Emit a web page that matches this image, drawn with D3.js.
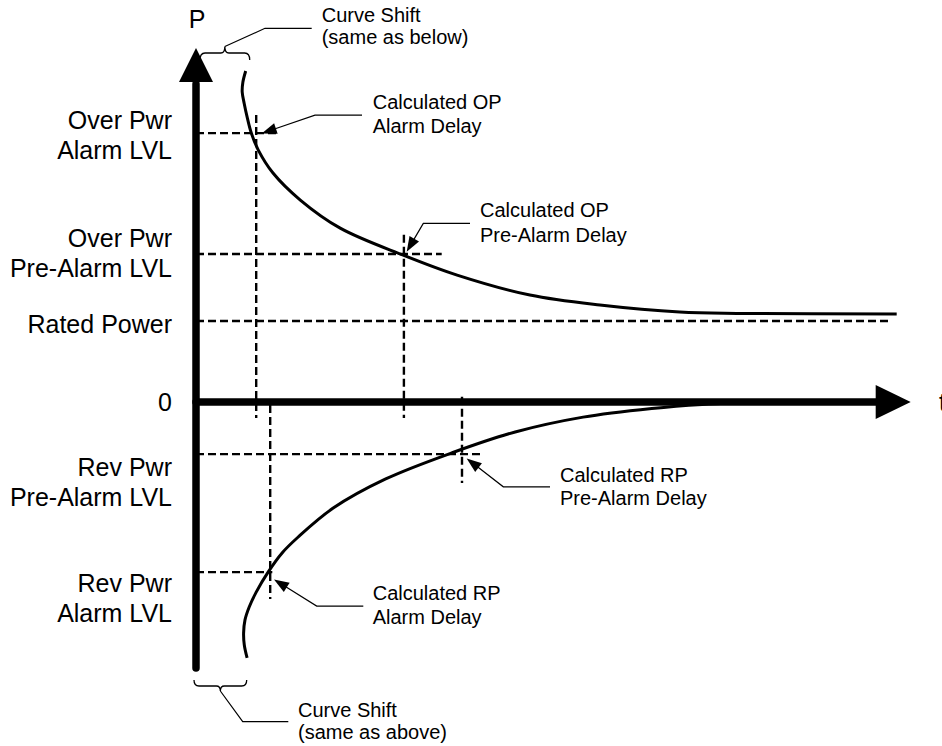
<!DOCTYPE html>
<html><head><meta charset="utf-8">
<script src="https://cdn.jsdelivr.net/npm/d3@7"></script>
<style>
body{margin:0;background:#fff}
svg{display:block;background:#fff}
text{font-family:"Liberation Sans",Arial,Helvetica,sans-serif;fill:#000}
</style>
</head><body>
<svg id="chart" width="942" height="746"></svg>
<script>
// ---------------- data ----------------
const levelLabels = [["Over Pwr","Alarm LVL"],["Over Pwr","Pre-Alarm LVL"],["Rated Power"],["0"],["Rev Pwr","Pre-Alarm LVL"],["Rev Pwr","Alarm LVL"]];
const levelValues = [99.6, 54.8, 30.0, 0, -19.3, -63.0];
const levelGuideEnd = [11.7, 35.1, 99.4, null, 40.6, 10.9];

const overCurveT = [7.1, 6.7, 6.6, 6.9, 7.3, 7.9, 8.9, 11.0, 14.9, 20.6, 29.6, 37.3, 47.7, 57.7, 69.1, 77.7, 100.1];
const overCurveP = [122.6, 118.5, 114.8, 110.4, 105.6, 99.6, 93.3, 84.8, 74.8, 64.4, 54.4, 47.0, 39.6, 35.9, 33.3, 32.8, 32.6];
const revCurveT = [7.3, 6.9, 6.8, 7.0, 7.6, 8.6, 10.3, 12.3, 14.6, 19.6, 27.1, 36.7, 45.6, 55.3, 65.1, 72.3, 77.0];
const revCurveP = [-94.8, -90.0, -85.6, -80.7, -75.9, -70.4, -63.0, -55.9, -50.0, -39.3, -28.5, -18.7, -11.1, -5.6, -2.4, -0.9, -0.4];

const delayNames = [["Calculated OP","Alarm Delay"],["Calculated OP","Pre-Alarm Delay"],["Calculated RP","Pre-Alarm Delay"],["Calculated RP","Alarm Delay"]];
const delayT = [8.6, 29.7, 38.0, 10.6];
const delayLevel = [99.6, 54.8, -19.3, -63.0];
const delayGuideTop = [106.3, 61.9, 1.9, -1.1];
const delayGuideBottom = [-5.9, -5.9, -30.0, -73.0];

const curveShift = 7.1;
const shiftNotes = [["Curve Shift","(same as below)"],["Curve Shift","(same as above)"]];
const axisNames = ["P", "t"];
const axisTMax = 102.1, axisTArrowBase = 97.1;
const axisPMax = 131.1, axisPArrowBase = 118.5, axisPMin = -98.5;

// ---------------- layout ----------------
const svg = d3.select("#chart");
svg.append("rect").attr("width",942).attr("height",746).attr("fill","#fff");
const x = d3.scaleLinear().domain([0,100]).range([196,896]);
const y = d3.scaleLinear().domain([0,100]).range([402,132]);

const labelFont = 25, noteFont = 20;
const dash = "8,4";

// level guides (dashed)
levelValues.forEach((v,i)=>{
  if(levelGuideEnd[i]==null) return;
  svg.append("line").attr("x1",x(0)).attr("x2",x(levelGuideEnd[i]))
    .attr("y1",y(v)).attr("y2",y(v))
    .attr("stroke","#000").attr("stroke-width",2.4).attr("stroke-dasharray",dash);
});
// delay guides (dashed verticals)
delayT.forEach((t,i)=>{
  svg.append("line").attr("x1",x(t)).attr("x2",x(t))
    .attr("y1",y(delayGuideTop[i])).attr("y2",y(delayGuideBottom[i]))
    .attr("stroke","#000").attr("stroke-width",2.4).attr("stroke-dasharray",dash);
});

// curves
const line = d3.line().x(d=>x(d[0])).y(d=>y(d[1])).curve(d3.curveCatmullRom.alpha(0.5));
svg.append("path").attr("d", line(overCurveT.map((t,i)=>[t,overCurveP[i]])))
  .attr("fill","none").attr("stroke","#000").attr("stroke-width",3);
svg.append("path").attr("d", line(revCurveT.map((t,i)=>[t,revCurveP[i]])))
  .attr("fill","none").attr("stroke","#000").attr("stroke-width",3);

// axes
svg.append("line").attr("x1",x(0)).attr("x2",x(0)).attr("y1",y(axisPMin)).attr("y2",y(axisPArrowBase)+2)
  .attr("stroke","#000").attr("stroke-width",7.5).attr("stroke-linecap","round");
svg.append("line").attr("x1",x(0)).attr("x2",x(axisTArrowBase)+2).attr("y1",y(0)).attr("y2",y(0))
  .attr("stroke","#000").attr("stroke-width",7.5).attr("stroke-linecap","round");
svg.append("path").attr("d",`M${x(0)},${y(axisPMax)}L${x(0)-17},${y(axisPArrowBase)}L${x(0)+17},${y(axisPArrowBase)}Z`).attr("fill","#000");
svg.append("path").attr("d",`M${x(axisTMax)},${y(0)}L${x(axisTArrowBase)},${y(0)-17}L${x(axisTArrowBase)},${y(0)+17}Z`).attr("fill","#000");
svg.append("text").attr("x",x(0)+1).attr("y",28).attr("text-anchor","middle").attr("font-size",labelFont).text(axisNames[0]);
svg.append("text").attr("x",939).attr("y",y(0)+9).attr("text-anchor","start").attr("font-size",labelFont).text(axisNames[1]);

// level labels
const labelCenterOffset = [2, -1, 3, 0, 28, 26];
levelLabels.forEach((lines,i)=>{
  const cy = y(levelValues[i]) + labelCenterOffset[i];
  const tx = svg.append("text").attr("text-anchor","end").attr("font-size",labelFont);
  if(lines.length===1){
    tx.append("tspan").attr("x",172).attr("y",cy+9).text(lines[0]);
  } else {
    tx.append("tspan").attr("x",172).attr("y",cy-6).text(lines[0]);
    tx.append("tspan").attr("x",172).attr("y",cy+24).text(lines[1]);
  }
});

// annotation arrows
function arrowHead(tipX,tipY,fromX,fromY,len,hw){
  const a = Math.atan2(tipY-fromY, tipX-fromX);
  const bx = tipX - len*Math.cos(a), by = tipY - len*Math.sin(a);
  const px = -Math.sin(a)*hw, py = Math.cos(a)*hw;
  return `M${tipX},${tipY}L${bx+px},${by+py}L${bx-px},${by-py}Z`;
}
const noteLayout = [
  {tip:[5.5,0.3], elbow:[58.8,-18], end:[105.8,-18], tx:116.5, ty:[-24.5,-0.5]},
  {tip:[2.8,-2.3], elbow:[19.4,-30.7], end:[66.1,-30.7], tx:76.1, ty:[-37,-12.5]},
  {tip:[4.7,4.3], elbow:[41.3,32.7], end:[88,32.7], tx:98, ty:[27.5,51]},
  {tip:[3.8,7.3], elbow:[46.5,34], end:[93.1,34], tx:102.5, ty:[28,52]}
];
delayNames.forEach((lines,i)=>{
  const ix = x(delayT[i]), iy = y(delayLevel[i]);
  const L = noteLayout[i];
  const tX = ix+L.tip[0], tY = iy+L.tip[1];
  const eX = ix+L.elbow[0], eY = iy+L.elbow[1];
  const a = Math.atan2(tY-eY, tX-eX);
  svg.append("path").attr("d",`M${ix+L.end[0]},${iy+L.end[1]}L${eX},${eY}L${tX-12*Math.cos(a)},${tY-12*Math.sin(a)}`)
    .attr("fill","none").attr("stroke","#000").attr("stroke-width",1.2);
  svg.append("path").attr("d",arrowHead(tX,tY,eX,eY,15,5.5)).attr("fill","#000");
  const tx = svg.append("text").attr("font-size",noteFont);
  lines.forEach((s,k)=>tx.append("tspan").attr("x",ix+L.tx).attr("y",iy+L.ty[k]).text(s));
});

// curve shift braces
function brace(x1,x2,yy,cusp,endDy){
  const xm = (x1+x2)/2;
  return `M${x1},${yy+endDy}Q${x1},${yy} ${x1+5},${yy}L${xm-4},${yy}Q${xm},${yy} ${xm},${cusp}Q${xm},${yy} ${xm+4},${yy}L${x2-5},${yy}Q${x2},${yy} ${x2},${yy+endDy}`;
}
const braceLayout = [
  {x1:x(0)+4, x2:x(curveShift)+4, y:53, cusp:46.5, endDy:7, lead:[[265,28.3],[311.7,28.3]], tx:321.7, ty:[21.7,44]},
  {x1:x(0)-2, x2:x(curveShift)+1, y:686, cusp:691, endDy:-6, lead:[[242.7,721.7],[288.3,721.7]], tx:298, ty:[717,739]}
];
shiftNotes.forEach((lines,i)=>{
  const B = braceLayout[i];
  svg.append("path").attr("d",brace(B.x1,B.x2,B.y,B.cusp,B.endDy)).attr("fill","none").attr("stroke","#000").attr("stroke-width",1.3);
  const xm=(B.x1+B.x2)/2;
  svg.append("path").attr("d",`M${xm},${B.cusp}L${B.lead[0][0]},${B.lead[0][1]}L${B.lead[1][0]},${B.lead[1][1]}`)
    .attr("fill","none").attr("stroke","#000").attr("stroke-width",1.2);
  const tx = svg.append("text").attr("font-size",noteFont);
  lines.forEach((s,k)=>tx.append("tspan").attr("x",B.tx).attr("y",B.ty[k]).text(s));
});
</script>
</body></html>
